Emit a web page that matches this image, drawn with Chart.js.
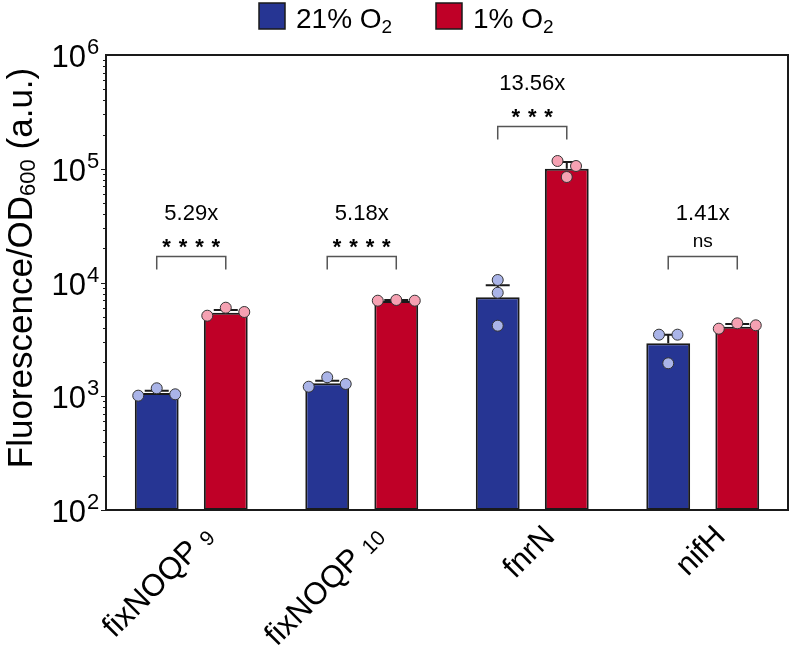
<!DOCTYPE html>
<html>
<head>
<meta charset="utf-8">
<script src="https://cdn.jsdelivr.net/npm/chart.js@4.4.1/dist/chart.umd.min.js"></script>
<style>
html, body { margin: 0; padding: 0; background: #fff; }
</style>
</head>
<body>
<canvas id="chart" width="789" height="648"></canvas>
<script>
// data
const categories = ['fixNOQP', 'fixNOQP', 'fnrN', 'nifH'];
const categorySubs = ['9', '10', '', ''];
const seriesNames = ['21% O', '1% O'];
const seriesSub = '2';
const blueMeans = [1068, 1300, 7413, 2921];
const redMeans = [5427, 6875, 100000, 4092];
const blueErr = [51, 71, 2030, 557];
const redErr = [300, 145, 14500, 223];
const blueReps = [[1012, 1175, 1040], [1213, 1468, 1282], [10520, 8130, 4170], [3478, 3478, 1949]];
const redReps = [[5106, 6004, 5505], [6920, 7020, 6920], [117000, 105700, 84600], [3926, 4375, 4204]];
const foldLabels = ['5.29x', '5.18x', '13.56x', '1.41x'];
const sigLabels = ['****', '****', '***', 'ns'];
const bracketLevels = [17100, 17100, 237700, 17100];
const yTickPowers = [2, 3, 4, 5, 6];

// layout only: horizontal spread of the replicate dots (in dot steps)
const blueJitter = [[-1, 0, 1], [-1, 0, 1], [0, 0, 0], [-0.5, 0.5, 0]];
const redJitter = [[-1, 0, 1], [-1, 0, 1], [-0.5, 0.5, 0], [-1, 0, 1]];

const FONT = '"Liberation Sans", Arial, Helvetica, sans-serif';
const BLUE = '#263593';
const RED = '#bf0027';
const BLUE_DOT = '#aab4e8';
const RED_DOT = '#f5a1b2';
const INK = '#1a1a1a';

// draws a run of text pieces (main / sub / superscript) starting at x
function drawParts(ctx, parts, x, y, align) {
	let total = 0;
	parts.forEach(p => { ctx.font = p.size + 'px ' + FONT; p.w = ctx.measureText(p.t).width; total += p.w; });
	let cx = align === 'right' ? x - total : align === 'center' ? x - total / 2 : x;
	parts.forEach(p => {
		ctx.font = p.size + 'px ' + FONT;
		ctx.fillText(p.t, cx, y + (p.dy || 0));
		cx += p.w;
	});
}

const decor = {
	id: 'decor',
	afterDatasetsDraw(chart) {
		const ctx = chart.ctx;
		const y = chart.scales.y;
		const sets = [
			{ means: blueMeans, err: blueErr, reps: blueReps, jit: blueJitter, dot: BLUE_DOT },
			{ means: redMeans, err: redErr, reps: redReps, jit: redJitter, dot: RED_DOT }
		];
		ctx.save();
		sets.forEach((s, di) => {
			const meta = chart.getDatasetMeta(di);
			meta.data.forEach((bar, i) => {
				const top = y.getPixelForValue(s.means[i]);
				const cap = y.getPixelForValue(s.means[i] + s.err[i]);
				ctx.strokeStyle = INK; ctx.lineWidth = 2;
				ctx.beginPath();
				ctx.moveTo(bar.x, top); ctx.lineTo(bar.x, cap);
				ctx.moveTo(bar.x - 12, cap); ctx.lineTo(bar.x + 12, cap);
				ctx.stroke();
				s.reps[i].forEach((v, k) => {
					ctx.beginPath();
					ctx.arc(bar.x + s.jit[i][k] * 18.5, y.getPixelForValue(v), 5.5, 0, Math.PI * 2);
					ctx.fillStyle = s.dot; ctx.fill();
					ctx.lineWidth = 1; ctx.strokeStyle = '#333'; ctx.stroke();
				});
			});
		});
		ctx.restore();
	},
	afterDraw(chart) {
		const ctx = chart.ctx;
		const area = chart.chartArea;
		const x = chart.scales.x;
		const y = chart.scales.y;
		ctx.save();

		// frame
		ctx.strokeStyle = INK; ctx.lineWidth = 2;
		ctx.strokeRect(area.left, area.top, area.right - area.left, area.bottom - area.top);

		// y ticks
		ctx.lineWidth = 1;
		ctx.beginPath();
		for (let p = yTickPowers[0]; p < yTickPowers[yTickPowers.length - 1]; p++) {
			for (let m = 1; m <= 9; m++) {
				const py = Math.round(y.getPixelForValue(m * Math.pow(10, p))) + 0.5;
				ctx.moveTo(area.left, py); ctx.lineTo(area.left - (m === 1 ? 5 : 3), py);
			}
		}
		ctx.stroke();
		ctx.fillStyle = '#000';
		ctx.textBaseline = 'alphabetic';
		yTickPowers.forEach(p => {
			const py = y.getPixelForValue(Math.pow(10, p));
			drawParts(ctx, [{ t: '10', size: 31, dy: 12 }], area.left - 20, py, 'right');
			drawParts(ctx, [{ t: String(p), size: 22, dy: -1 }], area.left - 19, py, 'left');
		});

		// y title
		ctx.save();
		ctx.translate(32, 268);
		ctx.rotate(-Math.PI / 2);
		drawParts(ctx, [
			{ t: 'Fluorescence/OD', size: 35 },
			{ t: '600', size: 22, dy: 3 },
			{ t: ' (a.u.)', size: 35 }
		], 0, 0, 'center');
		ctx.restore();

		// x labels
		categories.forEach((c, i) => {
			const px = x.getPixelForValue(i);
			ctx.save();
			ctx.translate(px + 18, area.bottom + 22);
			ctx.rotate(-Math.PI / 4);
			ctx.textBaseline = 'middle';
			const parts = [{ t: c, size: 31 }];
			if (categorySubs[i]) parts.push({ t: ' ', size: 31 }, { t: categorySubs[i], size: 21, dy: 4 });
			drawParts(ctx, parts, 0, 0, 'right');
			ctx.restore();
		});

		// brackets, significance and fold change
		const m0 = chart.getDatasetMeta(0), m1 = chart.getDatasetMeta(1);
		categories.forEach((c, i) => {
			const xa = m0.data[i].x, xb = m1.data[i].x, mid = (xa + xb) / 2;
			const by = Math.round(y.getPixelForValue(bracketLevels[i])) + 0.5;
			ctx.strokeStyle = '#555'; ctx.lineWidth = 1.5;
			ctx.beginPath();
			ctx.moveTo(xa, by + 13); ctx.lineTo(xa, by); ctx.lineTo(xb, by); ctx.lineTo(xb, by + 13);
			ctx.stroke();
			ctx.fillStyle = '#000';
			ctx.textAlign = 'center';
			const sig = sigLabels[i];
			if (sig.startsWith('*')) {
				ctx.font = 'bold 22px ' + FONT;
				const mt = ctx.measureText('*');
				const base = by - 13 + (mt.actualBoundingBoxAscent - mt.actualBoundingBoxDescent) / 2;
				for (let k = 0; k < sig.length; k++) {
					ctx.fillText('*', mid + (k - (sig.length - 1) / 2) * 16.4, base);
				}
			} else {
				ctx.font = '19px ' + FONT;
				ctx.textBaseline = 'middle';
				ctx.fillText(sig, mid, by - 15);
			}
			ctx.font = '22px ' + FONT;
			ctx.textBaseline = 'middle';
			ctx.fillText(foldLabels[i], mid, by - 43);
			ctx.textBaseline = 'alphabetic';
		});
		ctx.textAlign = 'left';

		// legend
		const legendX = [259, 436];
		chart.data.datasets.forEach((ds, di) => {
			ctx.fillStyle = ds.backgroundColor;
			ctx.fillRect(legendX[di], 3, 26, 26);
			ctx.strokeStyle = INK; ctx.lineWidth = 1.5;
			ctx.strokeRect(legendX[di], 3, 26, 26);
			ctx.fillStyle = '#000';
			drawParts(ctx, [
				{ t: seriesNames[di], size: 28 },
				{ t: seriesSub, size: 19, dy: 5 }
			], legendX[di] + 37, 28, 'left');
		});
		ctx.restore();
	}
};

new Chart(document.getElementById('chart'), {
	type: 'bar',
	data: {
		labels: categories.map((c, i) => c + categorySubs[i]),
		datasets: [
			{ label: seriesNames[0] + seriesSub, data: blueMeans, backgroundColor: BLUE, borderColor: INK, borderWidth: 2, borderSkipped: false, categoryPercentage: 0.81, barPercentage: 0.635 },
			{ label: seriesNames[1] + seriesSub, data: redMeans, backgroundColor: RED, borderColor: INK, borderWidth: 2, borderSkipped: false, categoryPercentage: 0.81, barPercentage: 0.635 }
		]
	},
	options: {
		responsive: false,
		animation: false,
		layout: { padding: { left: 106, top: 55, right: 1, bottom: 138 } },
		plugins: { legend: { display: false }, tooltip: { enabled: false } },
		scales: {
			x: { type: 'category', display: false },
			y: { type: 'logarithmic', min: 100, max: 1000000, display: false }
		}
	},
	plugins: [decor]
});
</script>
</body>
</html>
